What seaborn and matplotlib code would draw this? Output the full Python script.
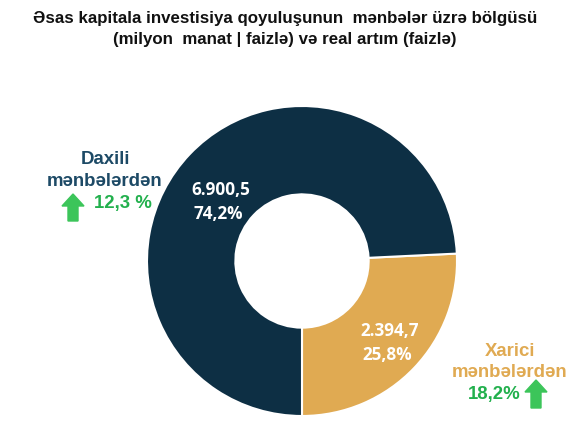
import matplotlib
matplotlib.use("Agg")
import matplotlib.pyplot as plt
from matplotlib.patches import FancyArrow
import seaborn as sns

# --- DATA ---
sources = ["Xarici mənbələrdən", "Daxili mənbələrdən"]
values = [2394.7, 6900.5]          # milyon manat
value_labels = ["2.394,7", "6.900,5"]
share_labels = ["25,8%", "74,2%"]
growth_labels = ["18,2%", "12,3 %"]

title = ("Əsas kapitala investisiya qoyuluşunun  mənbələr üzrə bölgüsü\n"
         "(milyon  manat | faizlə) və real artım (faizlə)")

# --- STYLE ---
sns.set_theme(style="white")
plt.rcParams["font.family"] = ["Liberation Sans", "DejaVu Sans"]

dark = "#0d2f44"
gold = "#e0aa52"
green = "#3cc55a"
green_txt = "#22b04d"
navy_txt = "#1d4a66"

W, H = 571, 439
fig = plt.figure(figsize=(W / 100, H / 100), dpi=100)
fig.patch.set_facecolor("white")

cx, cy, R = 302, 262, 155
ax = fig.add_axes([(cx - R) / W, (H - cy - R) / H, 2 * R / W, 2 * R / H])


def px(x, y):
    return (x - cx) / R, (cy - y) / R


ax.pie(values, colors=[gold, dark], startangle=270, counterclock=True,
       radius=1, wedgeprops=dict(width=0.57, edgecolor="white", linewidth=1.5))
ax.set_xlim(-1, 1)
ax.set_ylim(-1, 1)
ax.set_aspect("equal")
ax.axis("off")

# in-wedge labels
lab_font = dict(family=["Open Sans", "DejaVu Sans"], fontsize=12.3,
                fontweight="bold", color="white", ha="center", va="center")
ax.text(*px(221, 190), value_labels[1], **lab_font)
ax.text(*px(218, 214), share_labels[1], **lab_font)
ax.text(*px(390, 331), value_labels[0], **lab_font)
ax.text(*px(387, 355), share_labels[0], **lab_font)

# side labels
side = dict(fontsize=13.4, fontweight="bold", ha="center", va="center",
            clip_on=False)
ax.text(*px(105, 160), "Daxili", color=navy_txt, **side)
ax.text(*px(105, 182), "mənbələrdən", color=navy_txt, **side)
ax.text(*px(123, 204), growth_labels[1], color=green_txt, **side)
ax.text(*px(510, 352), "Xarici", color=gold, **side)
ax.text(*px(510, 373), "mənbələrdən", color=gold, **side)
ax.text(*px(494, 395), growth_labels[0], color=green_txt, **side)

# green arrows
for (ax_x, base_y, tip_y) in [(73, 222, 195), (536, 409, 381)]:
    x0, y0 = px(ax_x, base_y)
    _, y1 = px(ax_x, tip_y)
    arr = FancyArrow(x0, y0, 0, y1 - y0, width=10 / R, head_width=22 / R,
                     head_length=12 / R, length_includes_head=True,
                     color=green, clip_on=False)
    ax.add_patch(arr)

fig.text(285 / W, 1 - 29 / H, title, ha="center", va="center",
         fontsize=12.2, fontweight="bold", color="#111111", linespacing=1.45)

fig.savefig("out.png", dpi=100, facecolor="white")
